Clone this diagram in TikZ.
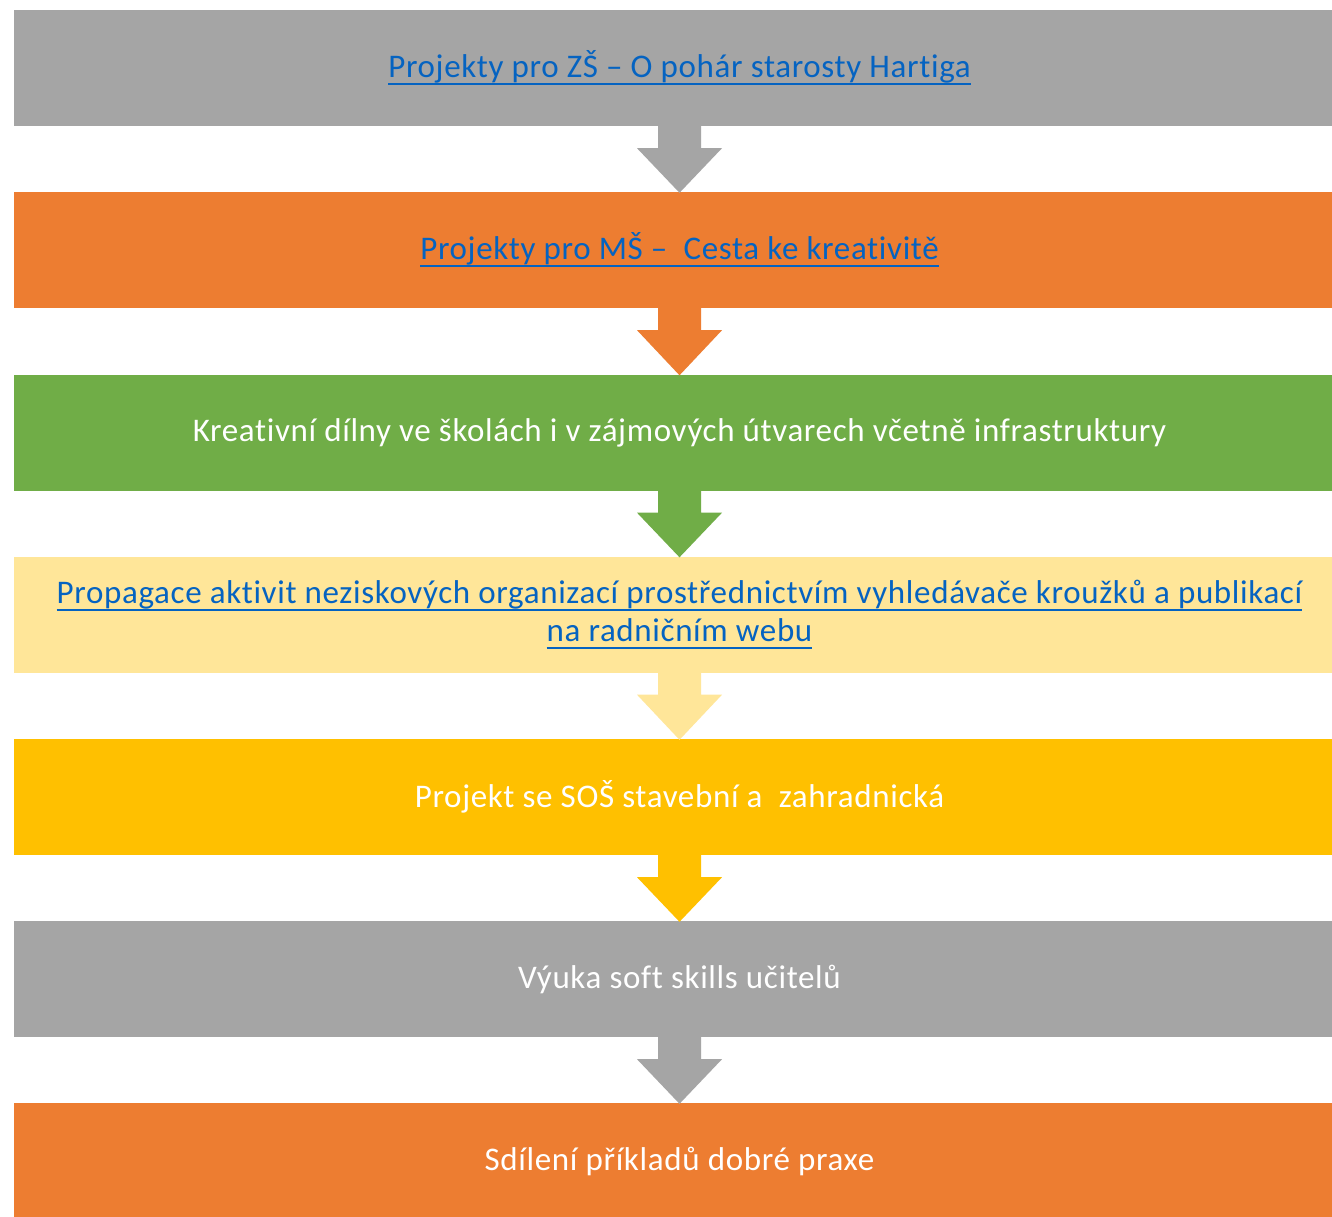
\documentclass[tikz,border=0pt]{standalone}
\usepackage{fontspec}
\setmainfont{Carlito}[Ligatures=CommonOff, LetterSpace=2.0]
\usetikzlibrary{calc}
\definecolor{cgray}{HTML}{A5A5A5}
\definecolor{corange}{HTML}{ED7D31}
\definecolor{cgreen}{HTML}{70AD47}
\definecolor{clight}{HTML}{FFE699}
\definecolor{cgold}{HTML}{FFC000}
\definecolor{clink}{HTML}{0563C1}
\newcommand\myul[1]{\setbox0\hbox{#1}\rlap{\rule[-0.24em]{\wd0}{0.065em}}\box0}
\tikzset{
  stepbox/.style={rectangle, fill=#1, draw=none, minimum width=1331pt, minimum height=116pt,
    inner sep=0pt, align=center, font=\fontsize{33}{38}\selectfont},
  linktext/.style={text=clink},
  plaintext/.style={text=white},
  flowarrow/.style={fill=#1, draw=none}
}
\newcommand\flowarr[3]{% from node, to node, color
  \fill[flowarrow=#3] ($(#1.south)+(-21.5pt,0)$) -- ($(#1.south)+(21.5pt,0)$) -- ($(#1.south)+(21.5pt,-22pt)$)
    -- ($(#1.south)+(42.5pt,-22pt)$) -- ($(#2.north)+(0,-1pt)$) -- ($(#1.south)+(-42.5pt,-22pt)$)
    -- ($(#1.south)+(-21.5pt,-22pt)$) -- cycle;}
\begin{document}
\begin{tikzpicture}[x=1pt,y=1pt]
\useasboundingbox (0,0) rectangle (1332,-1216);
\clip (0,0) rectangle (1332,-1216);
\fill[white] (0,0) rectangle (1332,-1216);
\node[stepbox=cgray, linktext] (b1) at (679.5,-68) {\myul{Projekty pro ZŠ – O pohár starosty Hartiga}};
\node[stepbox=corange, linktext] (b2) at (679.5,-250) {\myul{Projekty pro MŠ –\ \ Cesta ke kreativitě}};
\node[stepbox=cgreen, plaintext] (b3) at (679.5,-432.5) {Kreativní dílny ve školách i v zájmových útvarech včetně infrastruktury};
\node[stepbox=clight, linktext] (b4) at (679.5,-614.5) {\myul{Propagace aktivit neziskových organizací prostřednictvím vyhledávače kroužků a publikací}\\\myul{na radničním webu}};
\node[stepbox=cgold, plaintext] (b5) at (679.5,-797) {Projekt se SOŠ stavební a\ \ zahradnická};
\node[stepbox=cgray, plaintext] (b6) at (679.5,-979) {Výuka soft skills učitelů};
\node[stepbox=corange, plaintext] (b7) at (679.5,-1161) {Sdílení příkladů dobré praxe};
\flowarr{b1}{b2}{cgray}
\flowarr{b2}{b3}{corange}
\flowarr{b3}{b4}{cgreen}
\flowarr{b4}{b5}{clight}
\flowarr{b5}{b6}{cgold}
\flowarr{b6}{b7}{cgray}
\end{tikzpicture}
\end{document}
